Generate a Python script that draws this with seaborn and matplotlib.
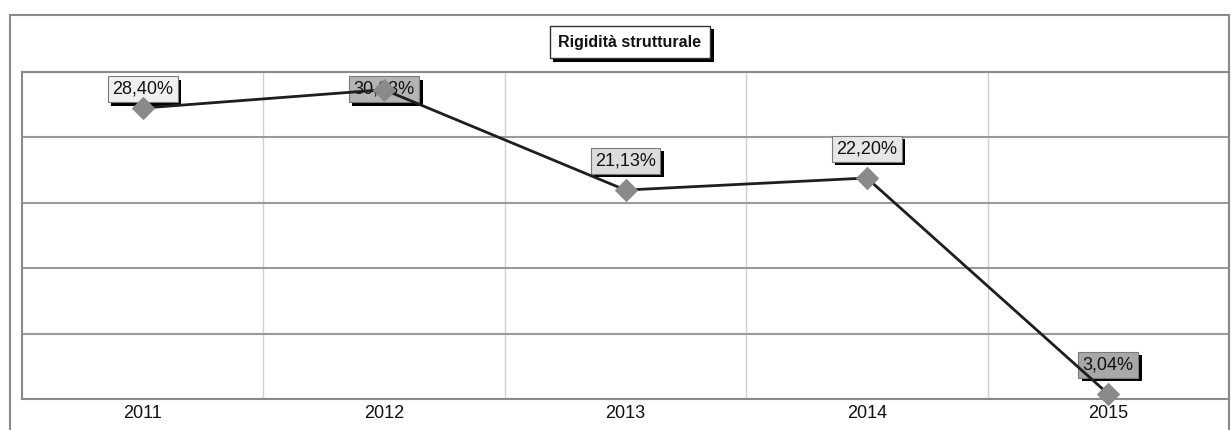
import matplotlib
matplotlib.use('Agg')
import matplotlib.pyplot as plt
import seaborn as sns
import pandas as pd
import numpy as np
from matplotlib import patheffects as pe
from matplotlib.patches import Rectangle

# ---- data ----
years = ['2011', '2012', '2013', '2014', '2015']
values = [28.40, 30.03, 21.13, 22.20, 3.04]
value_labels = ['28,40%', '30,03%', '21,13%', '22,20%', '3,04%']
title = 'Rigidità strutturale'

# ---- style ----
label_faces = ['#f0f0f0', '#b4b4b4', '#dcdcdc', '#e6e6e6', '#a8a8a8']

sns.set_theme(style='white')
plt.rcParams['font.family'] = ['Liberation Sans', 'DejaVu Sans']

W, H = 1231, 430
fig = plt.figure(figsize=(W / 100, H / 100), dpi=100)
fig.patch.set_facecolor('white')
L, R, T, B = 22, 1229, 72, 399
ax = fig.add_axes([L / W, 1 - B / H, (R - L) / W, (B - T) / H])
ax.set_facecolor('white')

df = pd.DataFrame({'pos': range(len(years)), 'val': values})
sns.lineplot(data=df, x='pos', y='val', ax=ax, color='#1e1e1e', lw=2,
             marker='D', markersize=11.5, markerfacecolor='#8a8a8a',
             markeredgecolor='#8a8a8a', zorder=6, clip_on=False)

ymin, ymax = 2.6, 31.6
ax.set_ylim(ymin, ymax)
ax.set_xlim(-0.5, len(years) - 0.5)
ax.set_yticks(np.linspace(ymin, ymax, 6))
ax.set_yticklabels([])
ax.tick_params(axis='y', length=0)
ax.set_xticks(range(len(years)))
ax.set_xticklabels(years, fontsize=13, color='#111111')
ax.tick_params(axis='x', length=0, pad=4)
ax.set_xticks(np.arange(0.5, len(years) - 1), minor=True)
ax.tick_params(axis='x', which='minor', length=0)
ax.grid(True, axis='y', which='major', color='#9a9a9a', lw=1.5)
ax.grid(True, axis='x', which='minor', color='#d0d0d0', lw=1)
ax.grid(False, axis='x', which='major')
ax.set_xlabel('')
ax.set_ylabel('')
for s in ax.spines.values():
    s.set_visible(True)
    s.set_color('#8a8a8a')
    s.set_linewidth(1.5)

shadow = [pe.SimplePatchShadow(offset=(2.5, -2.5), shadow_rgbFace='black', alpha=1.0), pe.Normal()]

for i, (v, lab) in enumerate(zip(values, value_labels)):
    ly = min(v + 2.6, ymax - 1.55)
    t = ax.text(i, ly, lab, ha='center', va='center', fontsize=13, color='#111111',
                bbox=dict(boxstyle='square,pad=0.25', fc=label_faces[i], ec='#7a7a7a', lw=0.8),
                zorder=4)
    t.get_bbox_patch().set_path_effects(shadow)

tt = fig.text(630 / W, 1 - 42 / H, title, ha='center', va='center', fontsize=11.5,
              fontweight='bold', color='#111111',
              bbox=dict(boxstyle='square,pad=0.55', fc='white', ec='#333333', lw=1))
tt.get_bbox_patch().set_path_effects(shadow)

frame = Rectangle((10 / W, -0.05), (R - 10) / W, (H - 15) / H + 0.05,
                  transform=fig.transFigure, fill=False, ec='#8a8a8a', lw=1.5)
fig.add_artist(frame)

fig.savefig('out.png', dpi=100)
